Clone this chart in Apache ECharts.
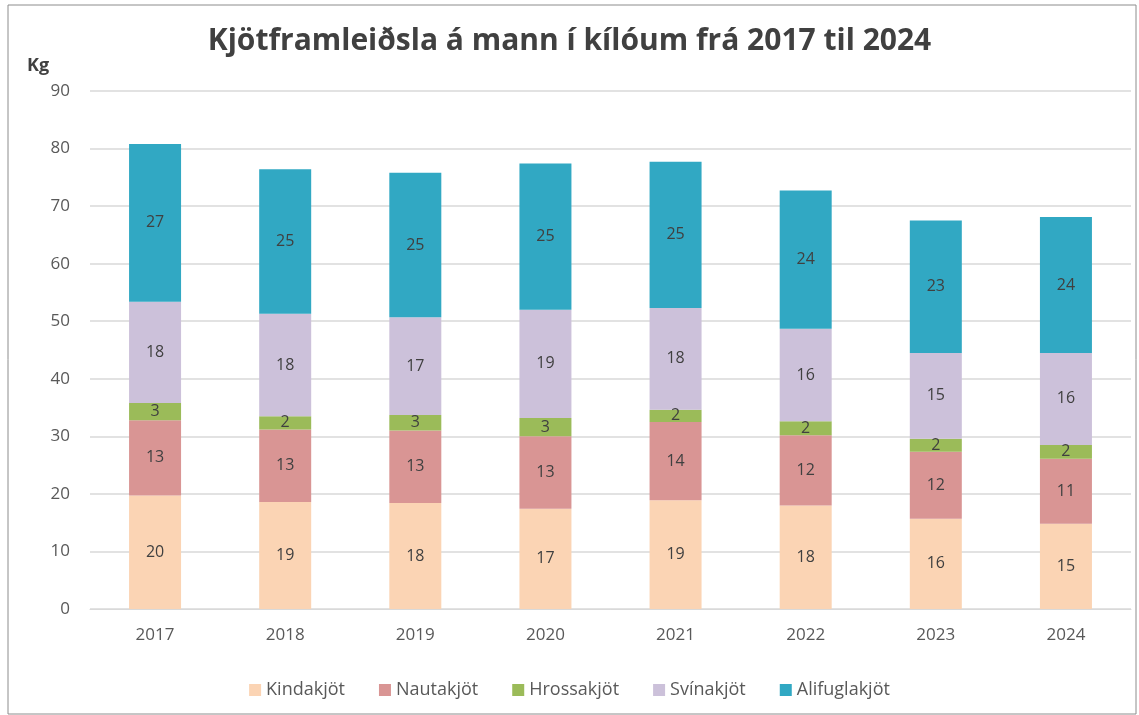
<!DOCTYPE html>
<html>
<head>
<meta charset="utf-8">
<script src="https://cdn.jsdelivr.net/npm/echarts@6/dist/echarts.min.js"></script>
<style>
  html, body { margin: 0; padding: 0; background: #fff; }
  #main { width: 1139px; height: 715px; }
</style>
</head>
<body>
<div id="main"></div>
<script>
var years = ['2017', '2018', '2019', '2020', '2021', '2022', '2023', '2024'];
var kindakjot = [19.7, 18.6, 18.4, 17.4, 18.9, 18.0, 15.7, 14.8];
var nautakjot = [13.1, 12.6, 12.6, 12.6, 13.6, 12.2, 11.6, 11.3];
var hrossakjot = [3.0, 2.3, 2.7, 3.2, 2.1, 2.4, 2.3, 2.4];
var svinakjot = [17.6, 17.8, 17.0, 18.8, 17.7, 16.1, 14.9, 16.0];
var alifuglakjot = [27.4, 25.1, 25.1, 25.4, 25.4, 24.0, 23.0, 23.6];
var yTicks = [0, 10, 20, 30, 40, 50, 60, 70, 80, 90];

var font = '"Open Sans", "Noto Sans", sans-serif';

function makeSeries(name, data, color) {
    return {
        name: name,
        type: 'bar',
        stack: 'kjot',
        barWidth: 52,
        data: data,
        itemStyle: { color: color },
        label: {
            show: true,
            position: 'inside',
            color: '#404040',
            fontFamily: font,
            fontSize: 16,
            formatter: function (p) { return Math.round(p.value); }
        }
    };
}

var option = {
    animation: false,
    title: {
        text: 'Kjötframleiðsla á mann í kílóum frá 2017 til 2024',
        left: 'center',
        top: 21,
        textStyle: {
            color: '#404040',
            fontFamily: font,
            fontWeight: 'bold',
            fontSize: 30
        }
    },
    graphic: [
        {
            type: 'rect',
            shape: { x: 8, y: 5, width: 1128, height: 709 },
            style: { fill: 'none', stroke: '#8c8c8c', lineWidth: 1 }
        },
        {
            type: 'text',
            left: 27,
            top: 57,
            style: { text: 'Kg', fill: '#404040', font: 'bold 18px "Open Sans", sans-serif' }
        }
    ],
    legend: {
        bottom: 11,
        left: 'center',
        itemWidth: 12,
        itemHeight: 12,
        itemGap: 34,
        icon: 'rect',
        textStyle: { color: '#595959', fontFamily: font, fontSize: 18 },
        data: ['Kindakjöt', 'Nautakjöt', 'Hrossakjöt', 'Svínakjöt', 'Alifuglakjöt']
    },
    grid: {
        left: 90,
        right: 8,
        top: 91,
        bottom: 106
    },
    xAxis: {
        type: 'category',
        data: years,
        axisTick: { show: false },
        axisLine: { lineStyle: { color: '#d9d9d9' } },
        axisLabel: { color: '#595959', fontFamily: font, fontSize: 17, margin: 18 }
    },
    yAxis: {
        type: 'value',
        min: yTicks[0],
        max: yTicks[yTicks.length - 1],
        interval: 10,
        axisLine: { show: false },
        axisTick: { show: false },
        splitLine: { lineStyle: { color: '#d9d9d9', width: 1.5 } },
        axisLabel: { color: '#595959', fontFamily: font, fontSize: 17, margin: 20 }
    },
    series: [
        makeSeries('Kindakjöt', kindakjot, '#fbd4b4'),
        makeSeries('Nautakjöt', nautakjot, '#d99594'),
        makeSeries('Hrossakjöt', hrossakjot, '#9bbb59'),
        makeSeries('Svínakjöt', svinakjot, '#ccc1da'),
        makeSeries('Alifuglakjöt', alifuglakjot, '#31a8c3')
    ]
};

var myChart = echarts.init(document.getElementById('main'));
myChart.setOption(option);
</script>
</body>
</html>
